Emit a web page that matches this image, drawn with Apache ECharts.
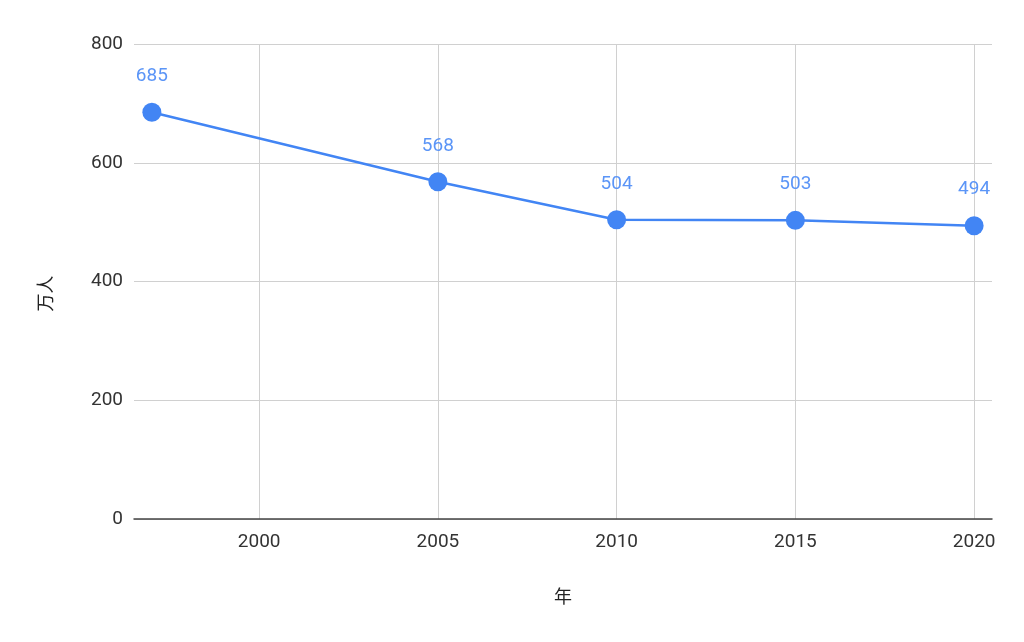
<!DOCTYPE html>
<html>
<head>
<meta charset="utf-8">
<script src="https://cdn.jsdelivr.net/npm/echarts@6/dist/echarts.min.js"></script>
<style>
html,body{margin:0;padding:0;background:#fff;}
#chart{width:1024px;height:642px;}
</style>
</head>
<body>
<div id="chart"></div>
<script>
var years = [1997, 2005, 2010, 2015, 2020];
var population = [685, 568, 504, 503, 494];
var xTicks = [2000, 2005, 2010, 2015, 2020];
var xName = '年';
var yName = '万人';

var chart = echarts.init(document.getElementById('chart'));
var data = years.map(function (y, i) { return [y, population[i]]; });
chart.setOption({
  animation: false,
  grid: { left: 134, right: 32, top: 44, bottom: 123 },
  xAxis: {
    type: 'value',
    min: 1996.5,
    max: 2020.5,
    name: xName,
    nameLocation: 'middle',
    nameGap: 68,
    nameTextStyle: { color: '#222', fontSize: 18, fontFamily: 'Noto Sans CJK SC' },
    axisLine: { show: true, onZero: false, lineStyle: { color: '#444', width: 1.5 } },
    axisTick: { show: false, customValues: xTicks },
    axisLabel: {
      customValues: xTicks, color: '#333', fontSize: 19, fontFamily: 'Roboto', margin: 14,
      formatter: function (v) { return String(v); }
    },
    splitLine: { show: true, lineStyle: { color: '#d0d0d0', width: 1 } }
  },
  yAxis: {
    type: 'value',
    min: 0,
    max: 800,
    interval: 200,
    name: yName,
    nameLocation: 'middle',
    nameGap: 80,
    nameRotate: 90,
    nameTextStyle: { color: '#222', fontSize: 18, fontFamily: 'Noto Sans CJK SC', padding: [0, 24, 0, 0] },
    axisLine: { show: false },
    axisTick: { show: false },
    axisLabel: { color: '#333', fontSize: 19, fontFamily: 'Roboto', margin: 11 },
    splitLine: { show: true, lineStyle: { color: '#d0d0d0', width: 1 } }
  },
  series: [{
    type: 'line',
    data: data,
    symbol: 'circle',
    symbolSize: 19,
    itemStyle: { color: '#4285F4' },
    lineStyle: { color: '#4285F4', width: 2.5 },
    label: {
      show: true,
      position: 'top',
      distance: 17,
      color: '#5B95F7',
      fontSize: 19,
      fontFamily: 'Roboto',
      formatter: function (p) { return p.value[1]; }
    }
  }]
});
</script>
</body>
</html>
